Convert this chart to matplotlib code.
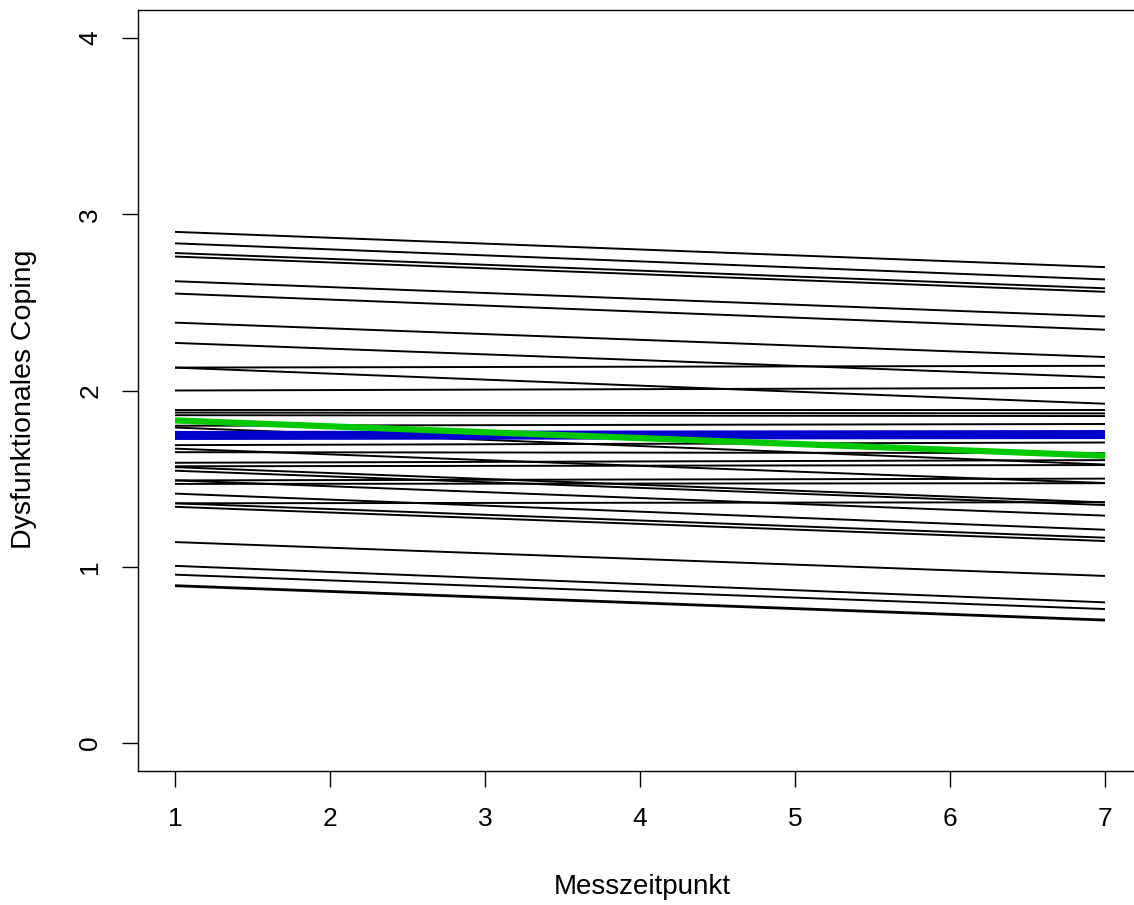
import matplotlib
matplotlib.use('Agg')
import matplotlib.pyplot as plt

plt.rcParams['font.family'] = ['Liberation Sans', 'DejaVu Sans']

# Messzeitpunkte
zeit = [1, 7]

# individuelle Verlaeufe: Wert bei t=1 und bei t=7
start = [2.90, 2.835, 2.78, 2.76, 2.62, 2.55, 2.385, 2.27, 2.13, 2.13,
         2.00, 1.89, 1.875, 1.86, 1.80, 1.79, 1.69, 1.67, 1.65, 1.59,
         1.57, 1.565, 1.545, 1.49, 1.49, 1.47, 1.415, 1.36, 1.36, 1.34,
         1.14, 1.005, 0.955, 0.895, 0.89]
ende = [2.70, 2.63, 2.58, 2.56, 2.42, 2.345, 2.19, 2.075, 2.14, 1.925,
        2.015, 1.89, 1.87, 1.855, 1.81, 1.58, 1.705, 1.475, 1.645, 1.605,
        1.577, 1.365, 1.35, 1.50, 1.29, 1.474, 1.21, 1.366, 1.165, 1.146,
        0.948, 0.798, 0.76, 0.70, 0.695]

# mittlere Verlaeufe
blau = [1.745, 1.75]
gruen = [1.83, 1.63]

fig = plt.figure(figsize=(11.34, 9.05), dpi=100)
# achsenbereich wie bei R (4% Rand), rechts abgeschnitten
ax = fig.add_axes([137.8 / 1134, 1 - 771.2 / 905, 1004.4 / 1134, 761.4 / 905])

for s, e in zip(start, ende):
    ax.plot(zeit, [s, e], color='black', lw=1.4, solid_capstyle='butt')
ax.plot(zeit, blau, color='#0000cd', lw=6.5, solid_capstyle='butt')
ax.plot(zeit, gruen, color='#00c800', lw=4.5, solid_capstyle='butt')

ax.set_xlim(0.76, 7.24)
ax.set_ylim(-0.16, 4.16)
ax.set_xticks(range(1, 8))
ax.set_yticks(range(0, 5))
ax.tick_params(axis='both', length=11.5, width=1.0, labelsize=19, pad=14)
for lab in ax.get_yticklabels():
    lab.set_rotation(90)
    lab.set_va('center')
for sp in ax.spines.values():
    sp.set_linewidth(1.0)
ax.spines['right'].set_visible(False)

fig.text(642 / 1134, 1 - 887 / 905, 'Messzeitpunkt', ha='center', va='center', fontsize=20)
fig.text(24 / 1134, 1 - 399 / 905, 'Dysfunktionales Coping', ha='center', va='center',
         rotation=90, fontsize=20.5)

fig.savefig('out.png', dpi=100)
